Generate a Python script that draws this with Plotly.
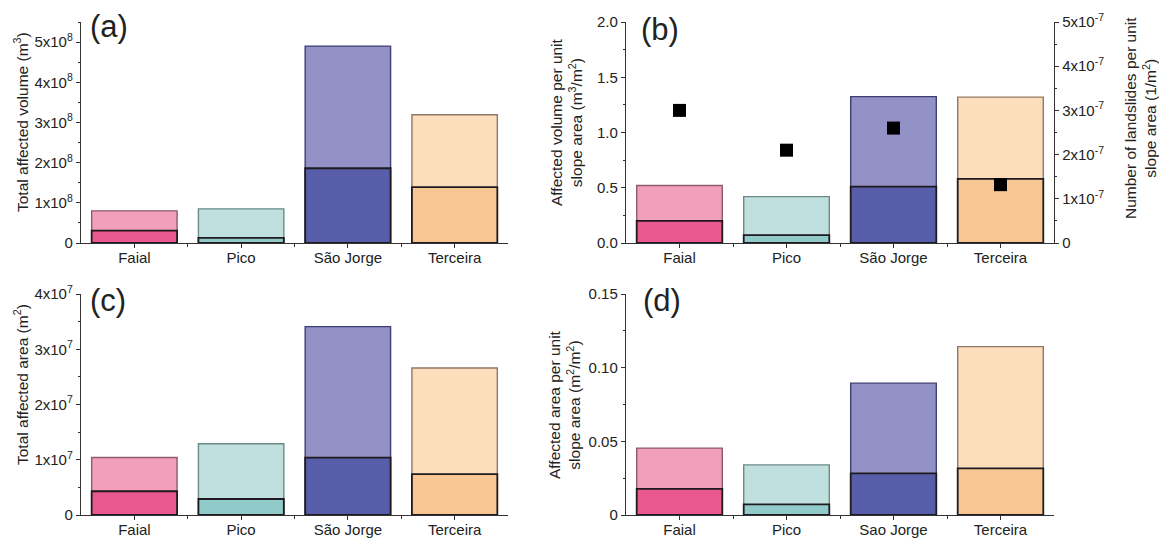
import plotly.graph_objects as go

# Islands
islands = ["Faial", "Pico", "São Jorge", "Terceira"]
islands_d = ["Faial", "Pico", "Sao Jorge", "Terceira"]

# (a) total affected volume (m3): whole bar and lower part
vol_total = [0.80e8, 0.85e8, 4.90e8, 3.19e8]
vol_lower = [0.31e8, 0.13e8, 1.86e8, 1.39e8]

# (b) affected volume per unit slope area (m3/m2) and landslide density (1/m2)
vol_unit_total = [0.52, 0.42, 1.325, 1.32]
vol_unit_lower = [0.20, 0.072, 0.51, 0.58]
landslide_density = [3.0e-7, 2.1e-7, 2.6e-7, 1.32e-7]

# (c) total affected area (m2)
area_total = [1.04e7, 1.29e7, 3.41e7, 2.66e7]
area_lower = [0.43e7, 0.29e7, 1.04e7, 0.74e7]

# (d) affected area per unit slope area (m2/m2)
area_unit_total = [0.0454, 0.034, 0.0895, 0.1143]
area_unit_lower = [0.0177, 0.0072, 0.0282, 0.0316]

light_colors = ["#F19FBB", "#BFE0DE", "#9392C6", "#FCDDBC"]
dark_colors = ["#E9588F", "#91CBC9", "#575DA8", "#F7C692"]
light_edges = ["#8A5C6C", "#6C8A88", "#3E3E72", "#927862"]
dark_edge = "#1E1A1E"

FONT = "Liberation Sans, Arial, sans-serif"
TXT = "#222222"
AX = "#333333"

W, H = 1159, 538


def px_x(p):
    return p / W


def px_y(p):
    return 1 - p / H


x_left = [px_x(81), px_x(508)]
x_right = [px_x(626), px_x(1054)]
y_top = [px_y(243), px_y(22)]
y_bot = [px_y(515), px_y(294)]

fig = go.Figure()

xs = list(range(len(islands)))


def add_stack(total, lower, xa, ya):
    fig.add_trace(go.Bar(
        x=xs, y=total, width=0.8, xaxis=xa, yaxis=ya,
        marker=dict(color=light_colors, line=dict(color=light_edges, width=1.4)),
        showlegend=False, hoverinfo="skip"))
    fig.add_trace(go.Bar(
        x=xs, y=lower, width=0.8, xaxis=xa, yaxis=ya,
        marker=dict(color=dark_colors, line=dict(color=dark_edge, width=1.8)),
        showlegend=False, hoverinfo="skip"))


add_stack(vol_total, vol_lower, "x", "y")
add_stack(vol_unit_total, vol_unit_lower, "x2", "y2")
add_stack(area_total, area_lower, "x3", "y3")
add_stack(area_unit_total, area_unit_lower, "x4", "y4")

fig.add_trace(go.Scatter(
    x=xs, y=landslide_density, mode="markers", xaxis="x2", yaxis="y5",
    marker=dict(symbol="square", size=13, color="black"),
    showlegend=False, hoverinfo="skip"))


def sci(m, e):
    return "0" if m == 0 else f"{m}x10<sup>{e}</sup>"


tickfont = dict(family=FONT, size=15, color=TXT)


def xaxis(domain, anchor, labels):
    return dict(
        domain=domain, anchor=anchor, range=[-0.5, 3.5],
        tickmode="array", tickvals=xs, ticktext=labels,
        ticks="outside", ticklen=4, tickcolor=AX, tickwidth=1,
        minor=dict(tickmode="array", tickvals=[0.5, 1.5, 2.5],
                   ticks="outside", ticklen=3, tickcolor=AX),
        showline=True, linecolor=AX, linewidth=1.4,
        showgrid=False, zeroline=False, tickfont=tickfont,
        ticklabelstandoff=-3,
        automargin=False, fixedrange=True)


def yaxis(domain, anchor, rng, vals, texts, minor_vals, side="left", overlaying=None):
    d = dict(
        domain=domain, anchor=anchor, range=rng, side=side,
        tickmode="array", tickvals=vals, ticktext=texts,
        ticks="outside", ticklen=4, tickcolor=AX, tickwidth=1,
        minor=dict(tickmode="array", tickvals=minor_vals,
                   ticks="outside", ticklen=2, tickcolor=AX),
        showline=True, linecolor=AX, linewidth=1.4,
        showgrid=False, zeroline=False, tickfont=tickfont,
        automargin=False, fixedrange=True)
    if overlaying:
        d["overlaying"] = overlaying
    return d


va = [i * 1e8 for i in range(6)]
vb = [0, 0.5, 1.0, 1.5, 2.0]
vc = [i * 1e7 for i in range(5)]
vd = [0, 0.05, 0.10, 0.15]
vr = [i * 1e-7 for i in range(6)]

layout = dict(
    width=W, height=H,
    margin=dict(l=0, r=0, t=0, b=0),
    paper_bgcolor="white", plot_bgcolor="white",
    barmode="overlay", bargap=0.2,
    font=dict(family=FONT, color=TXT),
    xaxis=xaxis(x_left, "y", islands),
    xaxis2=xaxis(x_right, "y2", islands),
    xaxis3=xaxis(x_left, "y3", islands),
    xaxis4=xaxis(x_right, "y4", islands_d),
    yaxis=yaxis(y_top, "x", [0, 5.5e8], va, [sci(i, 8) for i in range(6)],
                [(i + 0.5) * 1e8 for i in range(6)]),
    yaxis2=yaxis(y_top, "x2", [0, 2.0], vb, ["0.0", "0.5", "1.0", "1.5", "2.0"],
                  [0.25, 0.75, 1.25, 1.75]),
    yaxis3=yaxis(y_bot, "x3", [0, 4e7], vc, [sci(i, 7) for i in range(5)],
                 [(i + 0.5) * 1e7 for i in range(4)]),
    yaxis4=yaxis(y_bot, "x4", [0, 0.15], vd, ["0", "0.05", "0.10", "0.15"],
                 [0.025, 0.075, 0.125]),
    yaxis5=yaxis(y_top, "x2", [0, 5e-7], vr, [sci(i, -7) for i in range(6)],
                 [(i + 0.5) * 1e-7 for i in range(5)], side="right", overlaying="y2"),
)
fig.update_layout(**layout)

title_font = dict(family=FONT, size=15.5, color=TXT)
panel_font = dict(family=FONT, size=31, color=TXT)

annotations = [
    # panel letters
    dict(text="(a)", x=px_x(88), y=px_y(27), xanchor="left", yanchor="middle", font=panel_font),
    dict(text="(b)", x=px_x(639), y=px_y(29), xanchor="left", yanchor="middle", font=panel_font),
    dict(text="(c)", x=px_x(88), y=px_y(300), xanchor="left", yanchor="middle", font=panel_font),
    dict(text="(d)", x=px_x(641), y=px_y(300), xanchor="left", yanchor="middle", font=panel_font),
    # axis titles
    dict(text="Total affected volume (m<sup>3</sup>)", x=px_x(21), y=px_y(122),
         textangle=-90, font=title_font),
    dict(text="Affected volume per unit<br>slope area (m<sup>3</sup>/m<sup>2</sup>)",
         x=px_x(567), y=px_y(122), textangle=-90, font=title_font),
    dict(text="Number of landslides per unit<br>slope area (1/m<sup>2</sup>)",
         x=px_x(1140), y=px_y(118), textangle=-90, font=title_font),
    dict(text="Total affected area (m<sup>2</sup>)", x=px_x(21), y=px_y(385),
         textangle=-90, font=title_font),
    dict(text="Affected area per unit<br>slope area (m<sup>2</sup>/m<sup>2</sup>)",
         x=px_x(564), y=px_y(405), textangle=-90, font=title_font),
]
for a in annotations:
    a.update(xref="paper", yref="paper", showarrow=False)
    a.setdefault("xanchor", "center")
    a.setdefault("yanchor", "middle")
fig.update_layout(annotations=annotations)

fig.write_html("out.html", config={"displayModeBar": False})
